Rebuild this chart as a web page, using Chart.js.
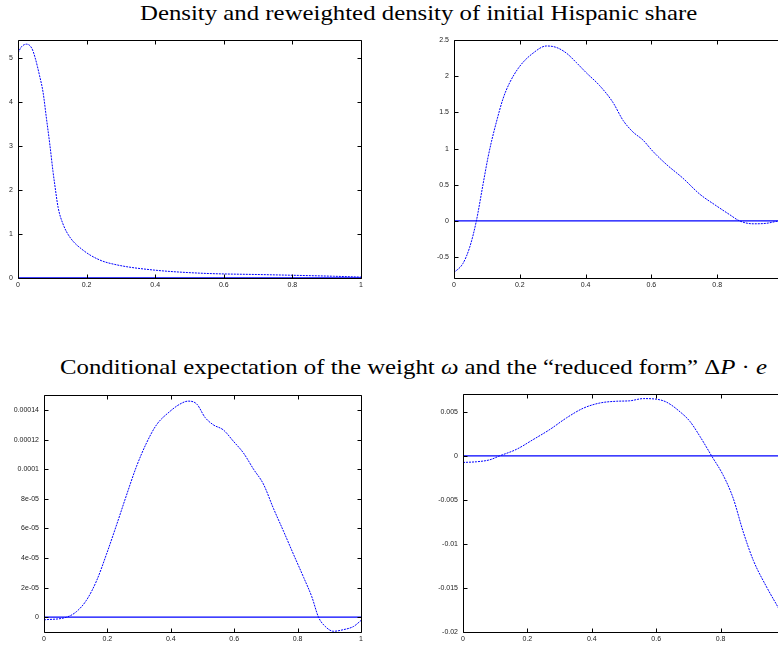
<!DOCTYPE html>
<html>
<head>
<meta charset="utf-8">
<script src="https://cdn.jsdelivr.net/npm/chart.js@4/dist/chart.umd.min.js"></script>
<style>
  html, body { margin:0; padding:0; width:778px; height:646px; overflow:hidden; background:#fff; }
  .pane { position:absolute; }
  .title { position:absolute; font-family:"Liberation Serif","DejaVu Serif",serif; font-size:21px; color:#000; white-space:nowrap; transform-origin:0 0; line-height:1; }
</style>
</head>
<body>
<div class="title" id="t1">Density and reweighted density of initial Hispanic share</div>
<div class="title" id="t2">Conditional expectation of the weight <i>ω</i> and the “reduced form” Δ<i>P</i> · <i>e</i></div>
<div class="pane" id="w1"><canvas id="c1"></canvas></div>
<div class="pane" id="w2"><canvas id="c2"></canvas></div>
<div class="pane" id="w3"><canvas id="c3"></canvas></div>
<div class="pane" id="w4"><canvas id="c4"></canvas></div>
<script>
// ---------- data ----------
const xTicks = [0, 0.2, 0.4, 0.6, 0.8, 1];
const xTickLabels = ["0", "0.2", "0.4", "0.6", "0.8", "1"];

// Panel 1: density of initial Hispanic share
const p1X = [0, 0.01, 0.025, 0.04, 0.05, 0.063, 0.073, 0.083, 0.093, 0.102, 0.107, 0.117, 0.131, 0.151, 0.19, 0.238, 0.287, 0.384, 0.53, 0.725, 0.92, 1];
const p1Y = [5.11, 5.25, 5.31, 5.22, 5.0, 4.59, 4.22, 3.62, 3.02, 2.42, 2.13, 1.60, 1.23, 0.93, 0.63, 0.41, 0.30, 0.19, 0.11, 0.075, 0.04, 0.02];
const p1YTicks = [0, 1, 2, 3, 4, 5];
const p1YLabels = ["0", "1", "2", "3", "4", "5"];

// Panel 2: reweighted density
const p2X = [0, 0.027, 0.048, 0.068, 0.088, 0.103, 0.114, 0.129, 0.149, 0.169, 0.2, 0.24, 0.281, 0.311, 0.342, 0.372, 0.402, 0.443, 0.483, 0.514, 0.544, 0.574, 0.605, 0.646, 0.696, 0.747, 0.797, 0.838, 0.868, 0.909, 0.95, 0.983, 1];
const p2Y = [-0.715, -0.59, -0.36, 0, 0.5, 0.87, 1.10, 1.37, 1.69, 1.91, 2.14, 2.32, 2.42, 2.40, 2.32, 2.19, 2.05, 1.87, 1.64, 1.39, 1.23, 1.12, 0.96, 0.78, 0.59, 0.37, 0.21, 0.086, 0, -0.04, -0.033, -0.005, 0];
const p2YTicks = [-0.5, 0, 0.5, 1, 1.5, 2, 2.5];
const p2YLabels = ["-0.5", "0", "0.5", "1", "1.5", "2", "2.5"];

// Panel 3: conditional expectation of the weight
const p3X = [0, 0.071, 0.102, 0.134, 0.166, 0.197, 0.229, 0.26, 0.292, 0.324, 0.355, 0.397, 0.429, 0.455, 0.482, 0.508, 0.534, 0.566, 0.597, 0.629, 0.661, 0.692, 0.724, 0.756, 0.787, 0.819, 0.845, 0.866, 0.887, 0.913, 0.945, 0.977, 1];
const p3Y = [-1.8e-6, 0, 3.7e-6, 1.15e-5, 2.47e-5, 4.25e-5, 6.24e-5, 8.23e-5, 1.02e-4, 1.18e-4, 1.30e-4, 1.39e-4, 1.44e-4, 1.46e-4, 1.44e-4, 1.35e-4, 1.30e-4, 1.265e-4, 1.19e-4, 1.11e-4, 1.00e-4, 9.0e-5, 7.34e-5, 5.79e-5, 4.25e-5, 2.69e-5, 1.37e-5, 0, -6.2e-6, -9.5e-6, -8.4e-6, -6.2e-6, -2.2e-6];
const p3YTicks = [0, 2e-5, 4e-5, 6e-5, 8e-5, 1e-4, 1.2e-4, 1.4e-4];
const p3YLabels = ["0", "2e-05", "4e-05", "6e-05", "8e-05", "0.0001", "0.00012", "0.00014"];

// Panel 4: reduced form
const p4X = [0, 0.042, 0.083, 0.114, 0.166, 0.218, 0.27, 0.321, 0.373, 0.425, 0.477, 0.518, 0.56, 0.601, 0.632, 0.674, 0.705, 0.736, 0.772, 0.808, 0.839, 0.87, 0.902, 0.943, 0.977, 1];
const p4Y = [-0.00075, -0.00067, -0.00045, 0, 0.00074, 0.00185, 0.003, 0.0043, 0.0054, 0.006, 0.0062, 0.00625, 0.0065, 0.00643, 0.0061, 0.005, 0.0039, 0.0022, 0, -0.0022, -0.0048, -0.0086, -0.0119, -0.0149, -0.0171, -0.0186];
const p4YTicks = [-0.02, -0.015, -0.01, -0.005, 0, 0.005];
const p4YLabels = ["-0.02", "-0.015", "-0.01", "-0.005", "0", "0.005"];

// ---------- drawing ----------
const YW = 50, XH = 16, PT = 6, PR = 8;

const framePlugin = {
  id: 'frame',
  afterDraw(chart) {
    const { ctx, chartArea: a, scales: { x, y } } = chart;
    const L = Math.round(a.left) + 0.5, R = Math.round(a.right) + 0.5;
    const T = Math.round(a.top) + 0.5, B = Math.round(a.bottom) + 0.5;
    ctx.save();
    ctx.strokeStyle = '#000';
    ctx.lineWidth = 1;
    ctx.beginPath();
    x.ticks.forEach(t => {
      const px = Math.round(x.getPixelForValue(t.value)) + 0.5;
      if (px < L - 0.1 || px > R + 0.1) return;
      ctx.moveTo(px, B); ctx.lineTo(px, B - 4);
      ctx.moveTo(px, T); ctx.lineTo(px, T + 4);
    });
    y.ticks.forEach(t => {
      const py = Math.round(y.getPixelForValue(t.value)) + 0.5;
      if (py < T - 0.1 || py > B + 0.1) return;
      ctx.moveTo(L, py); ctx.lineTo(L + 4, py);
      ctx.moveTo(R, py); ctx.lineTo(R - 4, py);
    });
    ctx.rect(L, T, R - L, B - T);
    ctx.stroke();
    ctx.restore();
  }
};

function makePanel(id, wrapId, area, xs, ys, yMin, yMax, yTicks, yLabels) {
  const [L, T, R, Bt] = area;
  const w = R - L + YW + PR, h = Bt - T + PT + XH;
  const wrap = document.getElementById(wrapId);
  wrap.style.left = (L - YW) + 'px';
  wrap.style.top = (T - PT) + 'px';
  const cv = document.getElementById(id);
  cv.width = w; cv.height = h;
  cv.style.width = w + 'px'; cv.style.height = h + 'px';
  const tickFont = { family: '"Liberation Sans", Arial, sans-serif', size: 7 };
  new Chart(cv.getContext('2d'), {
    type: 'line',
    data: {
      datasets: [
        {
          data: [{ x: 0, y: 0 }, { x: 1, y: 0 }],
          borderColor: '#0000ff', borderWidth: 1.3, pointRadius: 0, tension: 0
        },
        {
          data: xs.map((v, i) => ({ x: v, y: ys[i] })),
          borderColor: '#0000ff', borderWidth: 1, borderDash: [2, 1],
          pointRadius: 0, cubicInterpolationMode: 'monotone'
        }
      ]
    },
    options: {
      responsive: false, animation: false, devicePixelRatio: 1,
      layout: { padding: { left: 0, top: PT, right: PR, bottom: 0 } },
      plugins: { legend: { display: false }, tooltip: { enabled: false }, title: { display: false } },
      scales: {
        x: {
          type: 'linear', min: 0, max: 1,
          grid: { display: false, drawTicks: false }, border: { display: false },
          afterBuildTicks: s => { s.ticks = xTicks.map(v => ({ value: v })); },
          afterFit: s => { s.height = XH; },
          ticks: { autoSkip: false, maxRotation: 0, padding: 3, color: '#222', font: tickFont,
                   callback: (v, i) => xTickLabels[i] }
        },
        y: {
          type: 'linear', min: yMin, max: yMax,
          grid: { display: false, drawTicks: false }, border: { display: false },
          afterBuildTicks: s => { s.ticks = yTicks.map(v => ({ value: v })); },
          afterFit: s => { s.width = YW; },
          ticks: { autoSkip: false, padding: 5, color: '#222', font: tickFont,
                   callback: (v, i) => yLabels[i] }
        }
      }
    },
    plugins: [framePlugin]
  });
}

makePanel('c1', 'w1', [18, 37, 361, 278], p1X, p1Y, 0, 5.40, p1YTicks, p1YLabels);
makePanel('c2', 'w2', [454, 37, 783, 278], p2X, p2Y, -0.79, 2.5, p2YTicks, p2YLabels);
makePanel('c3', 'w3', [44, 392, 361, 632], p3X, p3Y, -1e-5, 1.5e-4, p3YTicks, p3YLabels);
makePanel('c4', 'w4', [463, 391, 785, 632], p4X, p4Y, -0.02, 0.007, p4YTicks, p4YLabels);

// titles: same font and horizontal scale
const t1 = document.getElementById('t1'), t2 = document.getElementById('t2');
const w2 = t2.getBoundingClientRect().width;
const sx = (767 - 60) / w2;
t2.style.left = '60px';
t1.style.left = '140px';
t1.style.top = (20.5 - 17.6) + 'px';
t2.style.top = (374.5 - 17.6) + 'px';
t1.style.transform = t2.style.transform = 'scaleX(' + sx + ')';
</script>
</body>
</html>
